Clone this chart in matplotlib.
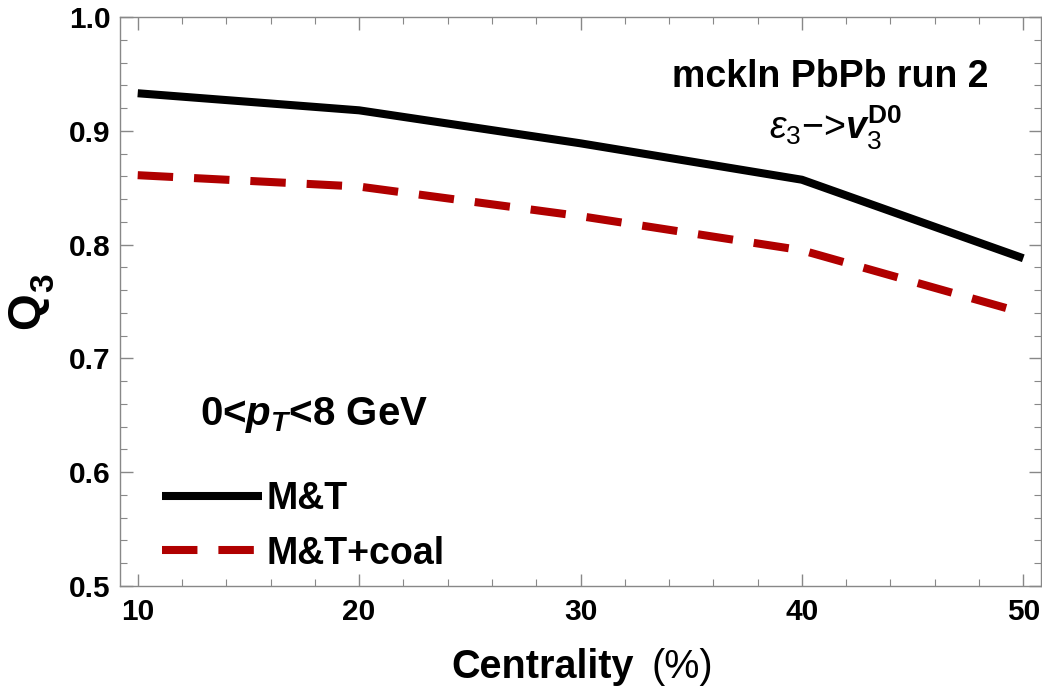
import matplotlib.pyplot as plt
from matplotlib.ticker import MultipleLocator

plt.rcParams['font.family'] = ['Liberation Sans', 'DejaVu Sans']
plt.rcParams['mathtext.fontset'] = 'custom'
plt.rcParams['mathtext.rm'] = 'Liberation Sans'
plt.rcParams['mathtext.it'] = 'Liberation Sans:italic:bold'
plt.rcParams['mathtext.bf'] = 'Liberation Sans:bold'
plt.rcParams['mathtext.sf'] = 'Liberation Sans:italic'

# centrality bins and Q3 values
centrality = [10, 20, 30, 40, 50]
q3_mt = [0.933, 0.918, 0.889, 0.857, 0.788]
q3_mt_coal = [0.861, 0.851, 0.825, 0.795, 0.740]

W, H = 1042, 688
fig = plt.figure(figsize=(W/100, H/100), dpi=100)
ax = fig.add_axes([120/W, 1 - 586/H, (1041-120)/W, (586-17)/H])

ax.plot(centrality, q3_mt, '-', color='black', lw=5.8, label='M&T', solid_capstyle='butt')
ax.plot(centrality, q3_mt_coal, '--', color='#b00000', lw=5.8, label='M&T+coal',
        dashes=(4.4, 2.6), dash_capstyle='butt')

ax.set_xlim(9.2, 50.8)
ax.set_ylim(0.5, 1.0)
ax.xaxis.set_major_locator(MultipleLocator(10))
ax.xaxis.set_minor_locator(MultipleLocator(2))
ax.yaxis.set_minor_locator(MultipleLocator(0.02))
ax.set_yticks([0.5, 0.6, 0.7, 0.8, 0.9, 1.0])
ax.set_yticklabels(['0.5', '0.6', '0.7', '0.8', '0.9', '1.0'])

gray = '#888888'
for s in ax.spines.values():
    s.set_color(gray)
    s.set_linewidth(1.0)
ax.tick_params(which='both', direction='in', top=True, right=True, color=gray,
               labelsize=21.5)
ax.tick_params(axis='x', pad=9)
ax.tick_params(axis='y', pad=7)
ax.tick_params(which='major', length=9, width=1.0)
ax.tick_params(which='minor', length=5, width=0.8)
for lab in ax.get_xticklabels() + ax.get_yticklabels():
    lab.set_fontweight('bold')

# axis labels, built from pieces (bold word + plain units, Q with subscript)
fig.text(634/W, 1 - 678/H, 'Centrality', ha='right', va='baseline',
         fontsize=28.5, fontweight='bold')
fig.text(651/W, 1 - 678/H, '(%)', ha='left', va='baseline', fontsize=28.5)
fig.text(27/W, 1 - 311/H, 'Q', ha='center', va='center', rotation=90,
         fontsize=34, fontweight='bold')
fig.text(45/W, 1 - 283/H, '3', ha='center', va='center', rotation=90,
         fontsize=24, fontweight='bold')

ax.text(0.9425, 0.895, 'mckln PbPb run 2', transform=ax.transAxes, ha='right', va='center',
        fontsize=27, fontweight='bold')
ax.text(0.777, 0.805, r'$\mathsf{\varepsilon}_3$−>$\mathit{v}_3^{\mathbf{D0}}$',
        transform=ax.transAxes, ha='center', va='center', fontsize=27)
ax.text(0.087, 0.30, r'0<$\mathit{p}_\mathit{T}$<8 GeV',
        transform=ax.transAxes, ha='left', va='center', fontsize=29, fontweight='bold')

leg = ax.legend(loc='lower left', bbox_to_anchor=(0.0094, -0.034), frameon=False,
                prop={'size': 27, 'weight': 'bold'}, handlelength=2.65,
                handletextpad=0.12, labelspacing=0.5)

fig.savefig('out.png', dpi=100)
